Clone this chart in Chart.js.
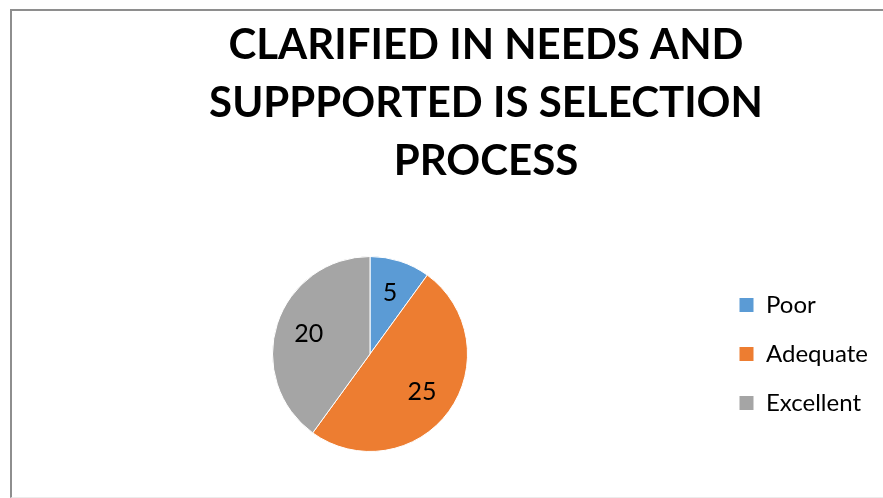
<!DOCTYPE html>
<html>
<head>
<meta charset="utf-8">
<title>Clarified in needs and supported in selection process</title>
<script src="https://cdn.jsdelivr.net/npm/chart.js@4.4.0/dist/chart.umd.min.js"></script>
<style>
  html, body { margin: 0; padding: 0; background: #fff; overflow: hidden; }
  #frame {
    position: absolute; left: 10px; top: 9px; width: 980px; height: 486px;
    border-left: 2px solid #8e8e8e; border-top: 2px solid #8e8e8e; border-bottom: 1px solid #ececec;
  }
  #box { position: absolute; left: 0; top: 0; width: 934px; height: 486px; }
</style>
</head>
<body>
<div id="frame">
  <div id="box"><canvas id="pie"></canvas></div>
</div>
<script>
const titleLines = ['CLARIFIED IN NEEDS AND', 'SUPPPORTED IS SELECTION', 'PROCESS'];
const labels = ['Poor', 'Adequate', 'Excellent'];
const counts = [5, 25, 20];
const sliceColors = ['#5B9BD5', '#ED7D31', '#A5A5A5'];

const fontFamily = 'Lato, "Open Sans", sans-serif';

// write each count inside its slice
const sliceValues = {
  id: 'sliceValues',
  afterDatasetsDraw(chart) {
    const ctx = chart.ctx;
    const meta = chart.getDatasetMeta(0);
    ctx.save();
    ctx.font = '25px ' + fontFamily;
    ctx.fillStyle = '#000';
    ctx.textAlign = 'center';
    ctx.textBaseline = 'middle';
    meta.data.forEach((arc, i) => {
      const p = arc.getProps(['x', 'y', 'startAngle', 'endAngle', 'outerRadius']);
      const mid = (p.startAngle + p.endAngle) / 2;
      const r = p.outerRadius * 0.66;
      ctx.fillText(String(counts[i]), p.x + Math.cos(mid) * r, p.y + Math.sin(mid) * r);
    });
    ctx.restore();
  }
};

// give the legend a fixed width so the pie sits left of centre
const legendWidth = {
  id: 'legendWidth',
  beforeInit(chart) {
    const fit = chart.legend.fit;
    chart.legend.fit = function () {
      fit.call(this);
      this.width = 232;
    };
  }
};

new Chart(document.getElementById('pie'), {
  type: 'pie',
  data: {
    labels: labels,
    datasets: [{
      data: counts,
      backgroundColor: sliceColors,
      borderColor: '#ffffff',
      borderWidth: 1
    }]
  },
  options: {
    responsive: true,
    maintainAspectRatio: false,
    animation: false,
    events: [],
    layout: { padding: { left: 14, right: 0, top: 0, bottom: 45 } },
    plugins: {
      title: {
        display: true,
        text: titleLines,
        color: '#000',
        font: { family: fontFamily, size: 42, weight: 'bold', lineHeight: '58px' },
        padding: { top: 5, bottom: 66 }
      },
      legend: {
        position: 'right',
        fullSize: false,
        labels: {
          boxWidth: 15,
          boxHeight: 15,
          padding: 25,
          color: '#000',
          font: { family: fontFamily, size: 24 }
        }
      },
      tooltip: { enabled: false }
    }
  },
  plugins: [sliceValues, legendWidth]
});
</script>
</body>
</html>
